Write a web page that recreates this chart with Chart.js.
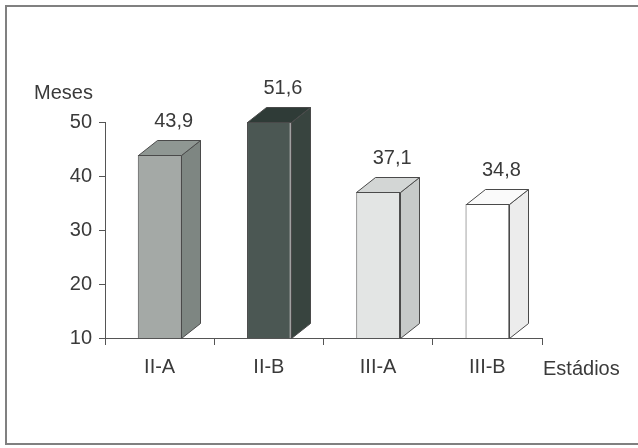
<!DOCTYPE html>
<html>
<head>
<meta charset="utf-8">
<script src="https://cdn.jsdelivr.net/npm/chart.js@4"></script>
<style>
    html, body { margin: 0; padding: 0; background: #fff; overflow: hidden; }
    #wrap { position: relative; width: 638px; height: 448px; }
    #frame {
        position: absolute; left: 5px; top: 5px;
        width: 700px; height: 440px;
        border: 2px solid #808080; box-sizing: border-box;
        pointer-events: none;
    }
    canvas { position: absolute; left: 0; top: 0; }
</style>
</head>
<body>
<div id="wrap">
    <canvas id="chart" width="638" height="448"></canvas>
    <div id="frame"></div>
</div>
<script>
    const estadios = ['II-A', 'II-B', 'III-A', 'III-B'];
    const meses = [43.9, 51.6, 37.1, 34.8];
    const yTicks = [10, 20, 30, 40, 50];

    // front / side / top shades per bar
    const frontColors = ['#a4a9a6', '#4b5753', '#e3e5e4', '#ffffff'];
    const sideColors = ['#7e8682', '#38443f', '#c7cac9', '#ececec'];
    const topColors = ['#8f9793', '#2f3b37', '#d3d6d5', '#fafafa'];

    const FONT = "'Liberation Sans', Arial, sans-serif";
    const TEXT = '#3a3a3a';
    const EDGE = '#4a4a4a';
    const DX = 19, DY = 15;

    // draws the depth faces, value labels and the two axis captions
    const bars3d = {
        id: 'bars3d',
        afterDatasetsDraw(chart) {
            const ctx = chart.ctx;
            const area = chart.chartArea;
            const meta = chart.getDatasetMeta(0);
            ctx.save();
            ctx.lineWidth = 1;
            ctx.strokeStyle = EDGE;
            meta.data.forEach((bar, i) => {
                const half = bar.width / 2;
                const l = Math.round(bar.x - half) + 0.5;
                const r = Math.round(bar.x + half) + 0.5;
                const t = Math.round(Math.max(bar.y, area.top)) + 0.5;
                const b = Math.round(Math.min(bar.base, area.bottom)) + 0.5;

                // side face
                ctx.beginPath();
                ctx.moveTo(r, b);
                ctx.lineTo(r + DX, b - DY);
                ctx.lineTo(r + DX, t - DY);
                ctx.lineTo(r, t);
                ctx.closePath();
                ctx.fillStyle = sideColors[i];
                ctx.fill();
                ctx.stroke();

                // top face
                ctx.beginPath();
                ctx.moveTo(l, t);
                ctx.lineTo(l + DX, t - DY);
                ctx.lineTo(r + DX, t - DY);
                ctx.lineTo(r, t);
                ctx.closePath();
                ctx.fillStyle = topColors[i];
                ctx.fill();
                ctx.stroke();

                // value label
                ctx.fillStyle = TEXT;
                ctx.font = '20px ' + FONT;
                ctx.textAlign = 'center';
                ctx.textBaseline = 'alphabetic';
                ctx.fillText(meses[i].toFixed(1).replace('.', ','), bar.x + 14, t - DY - 14);
            });

            ctx.textAlign = 'left';
            ctx.fillText('Meses', 34, 99);
            ctx.fillText('Estádios', 543, 375);
            ctx.restore();
        }
    };

    const ctx = document.getElementById('chart').getContext('2d');
    const chart = new Chart(ctx, {
        type: 'bar',
        data: {
            labels: estadios,
            datasets: [{
                data: meses,
                backgroundColor: frontColors,
                borderColor: EDGE,
                borderWidth: 1,
                borderSkipped: false,
                barPercentage: 0.4,
                categoryPercentage: 1
            }]
        },
        options: {
            responsive: false,
            animation: false,
            events: [],
            layout: {
                padding: { left: 0, right: 96, top: 122, bottom: 70 }
            },
            scales: {
                x: {
                    offset: true,
                    grid: {
                        offset: true,
                        drawOnChartArea: false,
                        tickLength: 7,
                        color: '#555'
                    },
                    border: { color: '#555', width: 1 },
                    ticks: {
                        color: TEXT,
                        font: { family: FONT, size: 20 },
                        padding: 10
                    },
                    afterFit(scale) { scale.height = 40; }
                },
                y: {
                    min: yTicks[0],
                    max: yTicks[yTicks.length - 1],
                    afterBuildTicks(scale) {
                        scale.ticks = yTicks.map(v => ({ value: v }));
                    },
                    grid: {
                        drawOnChartArea: false,
                        tickLength: 6,
                        color: '#555'
                    },
                    border: { color: '#555', width: 1 },
                    ticks: {
                        color: TEXT,
                        font: { family: FONT, size: 20 },
                        padding: 7
                    },
                    afterFit(scale) { scale.width = 105; }
                }
            },
            plugins: {
                legend: { display: false },
                tooltip: { enabled: false }
            }
        },
        plugins: [bars3d]
    });
</script>
</body>
</html>
